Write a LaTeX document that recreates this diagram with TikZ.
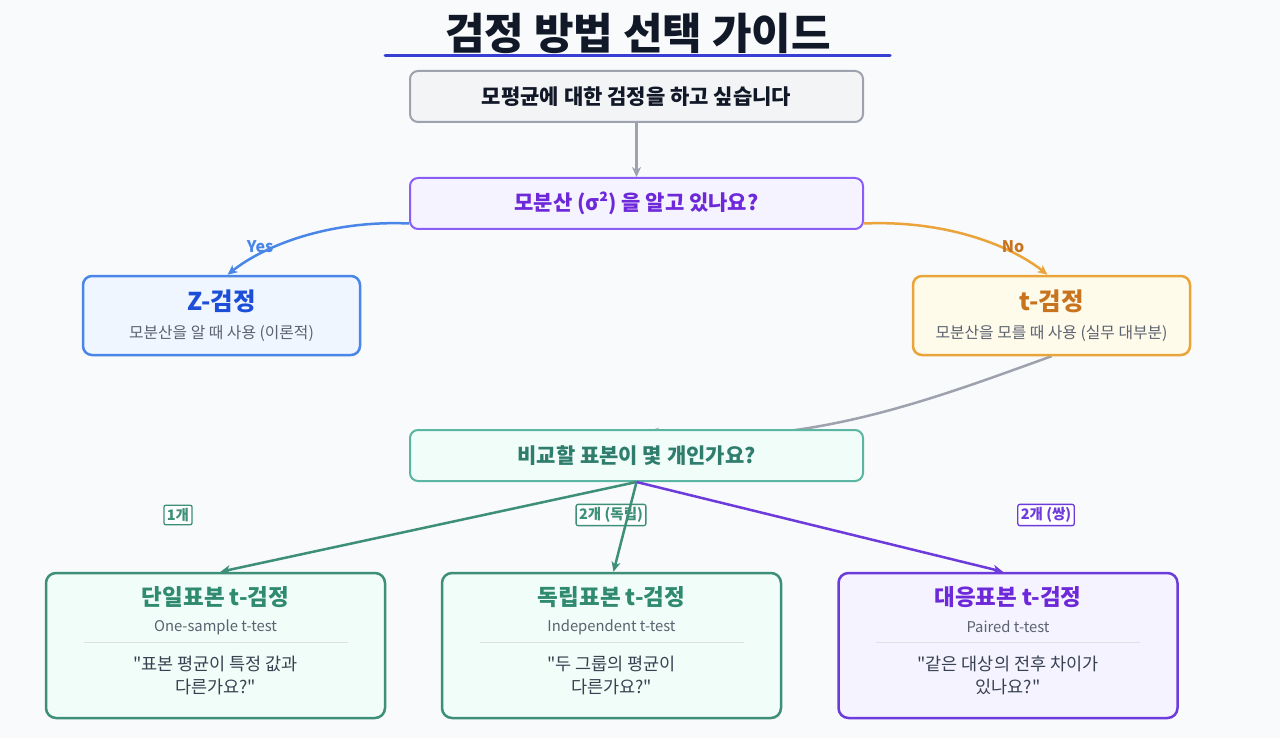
\documentclass[tikz,border=0pt]{standalone}
\usepackage{fontspec}
\setmainfont{Noto Sans CJK KR}[Ligatures=TeXOff]
\usetikzlibrary{calc,backgrounds,arrows.meta}

\definecolor{bgcol}{HTML}{F8FAFC}
\definecolor{inkcol}{HTML}{111827}
\definecolor{greycol}{HTML}{9EA1AE}
\definecolor{greyfill}{HTML}{F3F4F6}
\definecolor{subcol}{HTML}{5B6270}
\definecolor{quotecol}{HTML}{374151}
\definecolor{rulecol}{HTML}{3A3FD4}
\definecolor{violetline}{HTML}{8B5CF6}
\definecolor{violettext}{HTML}{6D28D9}
\definecolor{violetfill}{HTML}{F5F3FF}
\definecolor{blueline}{HTML}{4A86E8}
\definecolor{bluetext}{HTML}{1D4ED8}
\definecolor{bluefill}{HTML}{EFF6FF}
\definecolor{orangeline}{HTML}{EBA43A}
\definecolor{orangetext}{HTML}{C8741E}
\definecolor{orangefill}{HTML}{FFFBEB}
\definecolor{tealline}{HTML}{5BB5A2}
\definecolor{tealtext}{HTML}{2F7D6D}
\definecolor{tealfill}{HTML}{F0FDF9}
\definecolor{greenline}{HTML}{3D8F78}
\definecolor{greentext}{HTML}{2F8A70}
\definecolor{greenfill}{HTML}{F0FDF8}
\definecolor{purpleline}{HTML}{6D3ADB}

\begin{document}
\begin{tikzpicture}[x=1pt,y=-1pt,
  every node/.style={align=center,inner sep=0pt},
  qbox/.style={draw,rounded corners=8pt,line width=2pt,
    minimum width=453pt,minimum height=51pt,font=\fontsize{21}{24}\selectfont\bfseries},
  midbox/.style={draw,rounded corners=9pt,line width=2.5pt,
    minimum width=277pt,minimum height=79pt},
  testbox/.style={draw,rounded corners=10pt,line width=2.5pt,
    minimum width=339pt,minimum height=145pt},
  bigtitle/.style={font=\fontsize{24.5}{28}\selectfont\bfseries},
  lowtitle/.style={font=\fontsize{22.5}{26}\selectfont\bfseries},
  subline/.style={text=subcol,font=\fontsize{15.8}{18}\selectfont},
  engline/.style={text=subcol,font=\fontsize{14.8}{18}\selectfont},
  quote/.style={text=quotecol,font=\fontsize{17.5}{23}\selectfont},
  tag/.style={draw,fill=white,rounded corners=2pt,line width=1.3pt,
    inner xsep=3pt,inner ysep=3pt,font=\fontsize{14.5}{16}\selectfont\bfseries},
  arr/.style={line width=2.5pt,-{Stealth[length=10pt,width=9pt,inset=3pt]}},
  yesno/.style={font=\fontsize{16}{18}\selectfont\bfseries}
]
\useasboundingbox (0,0) rectangle (1280,738);
\begin{scope}[on background layer]
\fill [bgcol] (0,0) rectangle (1280,738);
\end{scope}

% title
\node (title) [text=inkcol,font=\fontsize{43}{46}\selectfont\bfseries] at (638,33) {검정 방법 선택 가이드};
\coordinate (ruleL) at (385,56);
\coordinate (ruleR) at (890,56);
\draw [rulecol,line width=3pt,line cap=round] (ruleL) -- (ruleR);

% questions
\node (start) [qbox,draw=greycol,fill=greyfill,text=inkcol] at (636.5,96.5) {모평균에 대한 검정을 하고 싶습니다};
\node (q1) [qbox,draw=violetline,fill=violetfill,text=violettext] at (636.5,203.5) {모분산 (σ²) 을 알고 있나요?};
\node (q2) [qbox,draw=tealline,fill=tealfill,text=tealtext] at (636.5,455.5) {비교할 표본이 몇 개인가요?};

% Z and t
\node (ztest) [midbox,draw=blueline,fill=bluefill] at (221.5,315.5) {};
\node (ztitle) [bigtitle,text=bluetext] at (221.5,301) {Z-검정};
\node (zsub) [subline] at (221.5,334) {모분산을 알 때 사용 (이론적)};
\node (ttest) [midbox,draw=orangeline,fill=orangefill] at (1051.5,315.5) {};
\node (ttitle) [bigtitle,text=orangetext] at (1051.5,301) {t-검정};
\node (tsub) [subline] at (1051.5,334) {모분산을 모를 때 사용 (실무 대부분)};

% final tests
\foreach \n/\x/\lc/\fc/\tc/\head/\eng/\qa/\qb in {
  one/215.5/greenline/greenfill/greentext/단일표본 t-검정/One-sample t-test/"표본 평균이 특정 값과/다른가요?",
  ind/611.5/greenline/greenfill/greentext/독립표본 t-검정/Independent t-test/"두 그룹의 평균이/다른가요?",
  pair/1008/purpleline/violetfill/violettext/대응표본 t-검정/Paired t-test/"같은 대상의 전후 차이가/있나요?"}
{
  \node (\n) [testbox,draw=\lc,fill=\fc] at (\x,645.5) {};
  \node (\n-head) [lowtitle,text=\tc] at (\x,597) {\head};
  \node (\n-eng) [engline] at (\x,627) {\eng};
  \coordinate (\n-dl) at (\x-132,642);
  \coordinate (\n-dr) at (\x+132,642);
  \draw [black!12,line width=1pt] (\n-dl) -- (\n-dr);
  \node (\n-quote) [quote] at (\x,675) {\qa\\\qb};
}

% connectors
\draw [arr,greycol] (start) -- (q1);
\draw [arr,blueline] ($(q1.west)+(0,20)$) .. controls (330,220) and (265,245) .. ([xshift=6]ztest.north);
\node (yes) [yesno,text=blueline] at (260,247) {Yes};
\draw [arr,orangeline] ($(q1.east)+(0,20)$) .. controls (945,220) and (1010,245) .. ([xshift=-4]ttest.north);
\node (no) [yesno,text=orangetext] at (1013,247) {No};
\begin{scope}[on background layer]
\draw [arr,greycol] (ttest.south) .. controls (930,400) and (800,450) .. ([xshift=12,yshift=-2]q2.north);
\end{scope}

\node (tag1) [tag,draw=greenline,text=greenline] at (178,515) {1개};
\node (tag2) [tag,draw=greenline,text=greenline] at (611,515) {2개 (독립)};
\node (tag3) [tag,draw=purpleline,text=purpleline] at (1046,515) {2개 (쌍)};

\draw [arr,greenline] (q2.south) -- ([xshift=5]one.north);
\draw [arr,greenline] (q2.south) -- ([xshift=2]ind.north);
\draw [arr,purpleline] (q2.south) -- ([xshift=-5]pair.north);
\end{tikzpicture}
\end{document}
